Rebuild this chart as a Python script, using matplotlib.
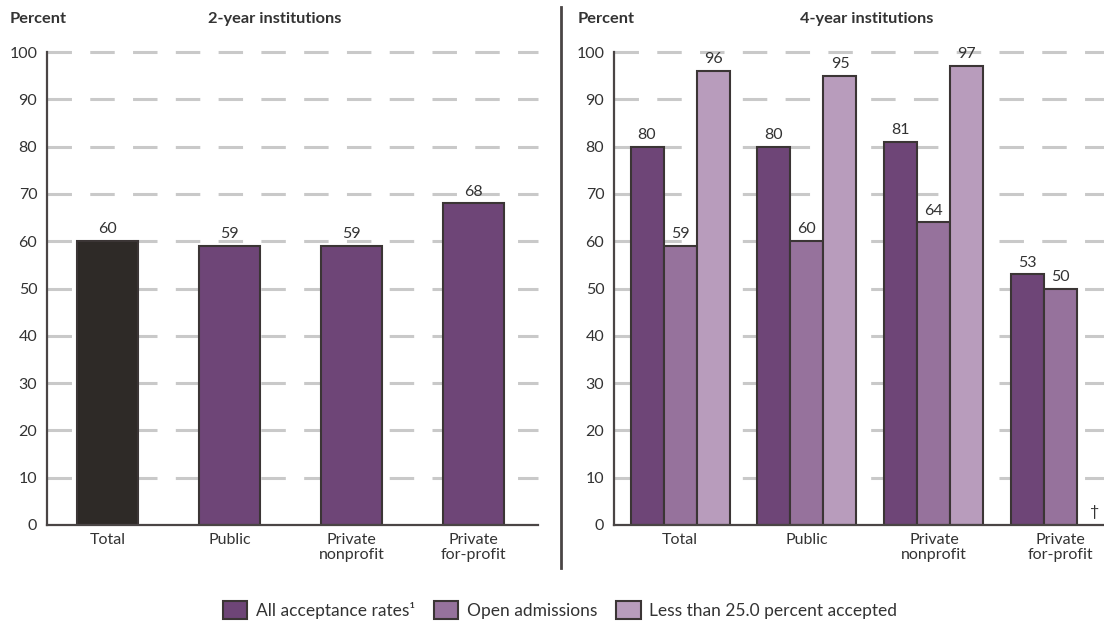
import matplotlib.pyplot as plt
import numpy as np

plt.rcParams['font.family'] = ['Lato', 'DejaVu Sans']

# 2-year institutions
cats2 = ["Total", "Public", "Private\nnonprofit", "Private\nfor-profit"]
vals2 = [60, 59, 59, 68]

# 4-year institutions
cats4 = ["Total", "Public", "Private\nnonprofit", "Private\nfor-profit"]
all_rates = [80, 80, 81, 53]
open_adm = [59, 60, 64, 50]
less25 = [96, 95, 97, None]   # not applicable for private for-profit

series_names = ["All acceptance rates\u00b9", "Open admissions",
                "Less than 25.0 percent accepted"]

c_total = "#2e2a27"
c_dark = "#6e4577"
c_mid = "#96729c"
c_light = "#b89cbc"
c_edge = "#3b3535"
c_text = "#333333"
c_grid = "#c9c9c9"
fs = 11.5

W, H = 1104, 624
fig = plt.figure(figsize=(W / 100, H / 100), dpi=100)

ax1 = fig.add_axes([47 / W, 1 - 525 / H, (538 - 47) / W, (525 - 52) / H])
ax2 = fig.add_axes([614 / W, 1 - 525 / H, (1104 - 614) / W, (525 - 52) / H])


def style(ax):
    ax.set_ylim(0, 100)
    ax.set_yticks(range(0, 101, 10))
    for y in range(10, 101, 10):
        ax.axhline(y, color=c_grid, lw=2.2, dashes=(8, 6), zorder=0, clip_on=False)
    for s in ["top", "right"]:
        ax.spines[s].set_visible(False)
    for s in ["left", "bottom"]:
        ax.spines[s].set_color("#4a4545")
        ax.spines[s].set_linewidth(1.6)
    ax.tick_params(length=0, labelsize=fs, labelcolor=c_text, pad=6)
    ax.tick_params(axis="y", pad=7)


# left panel
x2 = np.arange(len(cats2))
cols2 = [c_total, c_dark, c_dark, c_dark]
ax1.bar(x2, vals2, width=0.5, color=cols2, edgecolor=c_edge, linewidth=1.5, zorder=2)
for xi, v in zip(x2, vals2):
    ax1.text(xi, v + 1, str(v), ha="center", va="bottom", fontsize=fs, color=c_text)
ax1.set_xlim(-0.5, 3.53)
ax1.set_xticks(x2)
ax1.set_xticklabels(cats2, linespacing=1.05, va="top")
style(ax1)

# right panel
x4 = np.arange(len(cats4))
bw = 0.26
for off, vals, col, name in zip([-bw, 0, bw], [all_rates, open_adm, less25],
                                [c_dark, c_mid, c_light], series_names):
    xs = [xi + off for xi, v in zip(x4, vals) if v is not None]
    vs = [v for v in vals if v is not None]
    ax2.bar(xs, vs, width=bw, color=col, edgecolor=c_edge, linewidth=1.5,
            zorder=2, label=name)
    for xi, v in zip(xs, vs):
        ax2.text(xi, v + 1, str(v), ha="center", va="bottom", fontsize=fs,
                 color=c_text, zorder=3)
    for xi, v in zip(x4, vals):
        if v is None:
            ax2.text(xi + off, 1.2, "\u2020", ha="center", va="bottom",
                     fontsize=fs, color=c_text)
ax2.set_xlim(-0.52, 3.34)
ax2.set_xticks(x4)
ax2.set_xticklabels(cats4, linespacing=1.05, va="top")
style(ax2)

# headings
fig.text(10 / W, 1 - 19 / H, "Percent", fontsize=11.8, fontweight="bold",
         color=c_text, va="center")
fig.text(208 / W, 1 - 19 / H, "2-year institutions", fontsize=11.8,
         fontweight="bold", color=c_text, va="center")
fig.text(578 / W, 1 - 19 / H, "Percent", fontsize=11.8, fontweight="bold",
         color=c_text, va="center")
fig.text(800 / W, 1 - 19 / H, "4-year institutions", fontsize=11.8,
         fontweight="bold", color=c_text, va="center")

# divider between panels
fig.add_artist(plt.Line2D([561 / W, 561 / W], [1 - 7 / H, 1 - 568 / H],
                          color="#4a4545", lw=2))

handles, labels = ax2.get_legend_handles_labels()
fig.legend(handles, labels, loc="center", bbox_to_anchor=(560 / W, 1 - 610 / H),
           ncol=3, frameon=False, fontsize=12.5, handlelength=1.4,
           handleheight=1.25, handletextpad=0.5, columnspacing=1.1,
           labelcolor=c_text, borderpad=0.2)

fig.savefig("out.png", dpi=100)
